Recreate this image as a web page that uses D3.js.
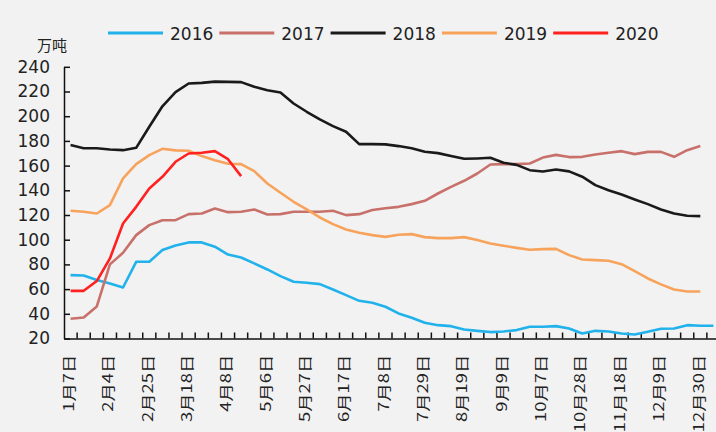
<!DOCTYPE html>
<html>
<head>
<meta charset="utf-8">
<script src="https://cdn.jsdelivr.net/npm/d3@7"></script>
<style>
body { margin: 0; background: #f2f2f2; }
</style>
</head>
<body>
<div id="chart"></div>
<script>
// weekly categories (some holiday weeks are skipped)
var cats = ["1月7日","1月14日","1月21日","2月4日","2月11日","2月18日","2月25日","3月4日","3月11日","3月18日",
            "3月25日","4月1日","4月8日","4月15日","4月22日","5月6日","5月13日","5月20日","5月27日","6月3日",
            "6月10日","6月17日","6月24日","7月1日","7月8日","7月15日","7月22日","7月29日","8月5日","8月12日",
            "8月19日","8月26日","9月2日","9月9日","9月16日","9月23日","10月7日","10月14日","10月21日","10月28日",
            "11月4日","11月11日","11月18日","11月25日","12月2日","12月9日","12月16日","12月23日","12月30日","1月6日"];

var years = ["2016","2017","2018","2019","2020"];
var yTicks = [20,40,60,80,100,120,140,160,180,200,220,240];

var s2016 = [71.3,71,67.3,64.6,61.3,82.1,82.1,91.6,95.3,97.8,
             97.8,94.3,88,85.6,80.8,75.9,70.5,65.9,65.1,64,
             59.7,55.1,50.5,48.9,45.7,40.3,36.8,32.7,30.8,30,
             27.3,26.2,25.2,25.7,26.8,29.5,29.5,30,28.1,24.1,
             26.2,25.7,24.1,23.3,25.5,27.9,28.1,30.8,30.3,30.3];
var s2017 = [36,37,46,80,89.4,103.7,111.8,115.8,115.8,120.7,
             121.2,125.3,122.3,122.6,124.5,120.4,120.7,122.6,122.6,122.6,
             123.4,119.9,120.7,124,125.5,126.6,128.8,131.5,137.4,142.8,
             147.7,153.6,160.9,161.2,161.2,161.7,166.5,168.7,166.9,167.1,
             169,170.4,171.7,169.3,171.1,171.1,167.1,172.5,175.8];
var s2018 = [176.6,174,174,173,172.5,174.4,191.5,208,219.5,226.5,
             227,228,227.8,227.6,223.8,221,219.2,210.3,203.6,197.4,
             192,187.4,177.4,177.4,177.2,175.8,174.1,171.2,170.1,167.7,
             165.5,165.8,166.3,162.3,160.6,156.3,155.2,156.9,155.3,151,
             144.2,140.1,136.6,132.6,128.8,124.5,121.2,119.4,119.1];
var s2019 = [123.4,122.6,121.2,128,149.6,161.2,168.5,173.6,172.3,172,
             167.7,164.4,161.5,161.2,155.5,145.5,138,130.7,124.5,118,
             112.6,108.3,105.6,103.7,102.3,104,104.5,102.1,101.3,101.3,
             102.1,99.7,97,95.1,93.4,91.8,92.4,92.6,87.5,84,
             83.5,82.9,80.2,74.5,68.6,63.8,59.7,58.1,58.1];
var s2020 = [58.6,58.6,66.5,84.8,113.1,126.6,141.5,150.9,163.1,169.8,
             170.4,171.7,165.2,151.5];

var color = d3.scaleOrdinal()
    .domain(years)
    .range(["#21b2ec","#c8716b","#1a1a1a","#f7a35c","#ff2020"]);

var width = 716, height = 432;
var svg = d3.select("#chart").append("svg")
    .attr("width", width)
    .attr("height", height);

svg.append("rect")
    .attr("width", width).attr("height", height)
    .attr("fill", "#f2f2f2");

// Set the ranges
var x = d3.scaleBand().domain(cats).range([64, 64 + cats.length * 13.12]);
var y = d3.scaleLinear().domain([20, 240]).range([338.5, 66.8]);

// y axis, ticks inward
var yAxis = svg.append("g")
    .attr("transform", "translate(64,0)")
    .call(d3.axisLeft(y).tickValues(yTicks).tickSizeInner(-6).tickSizeOuter(0).tickPadding(14));
yAxis.select(".domain").attr("stroke", "#111").attr("stroke-width", 1.5);
yAxis.selectAll(".tick line").attr("stroke", "#111").attr("stroke-width", 1.5);
yAxis.selectAll("text")
    .attr("font-family", "DejaVu Sans")
    .attr("font-size", 17)
    .attr("fill", "#222");

// x axis
var xAxis = svg.append("g")
    .attr("transform", "translate(0," + y(20) + ")")
    .call(d3.axisBottom(x).tickValues(cats.filter(function(d, i) { return i % 3 == 0; })).tickSize(0).tickSizeOuter(0));
xAxis.select(".domain").attr("stroke", "#111").attr("stroke-width", 1.5);
xAxis.selectAll("text")
    .attr("font-family", "Noto Sans CJK SC")
    .attr("font-size", 17)
    .attr("fill", "#222")
    .attr("transform", "rotate(-90) scale(1.08,0.82)")
    .attr("x", -15)
    .attr("y", -2)
    .attr("dy", "0.35em")
    .style("text-anchor", "end");

// tick marks between categories
svg.append("g").selectAll("line")
    .data(cats.slice(1))
    .enter().append("line")
    .attr("x1", function(d) { return x(d); })
    .attr("x2", function(d) { return x(d); })
    .attr("y1", y(20))
    .attr("y2", y(20) - 6)
    .attr("stroke", "#111")
    .attr("stroke-width", 1.5);

// lines
var valueline = d3.line()
    .x(function(d, i) { return x(cats[i]) + x.bandwidth() / 2; })
    .y(function(d) { return y(d); });

var series = [s2016, s2017, s2018, s2019, s2020];
for (var i = 0; i < series.length; i++) {
    svg.append("path")
        .datum(series[i])
        .attr("fill", "none")
        .attr("stroke", color(years[i]))
        .attr("stroke-width", 2.6)
        .attr("stroke-linejoin", "round")
        .attr("d", valueline);
}

// unit label
svg.append("text")
    .attr("x", 37)
    .attr("y", 51)
    .attr("font-family", "Noto Sans CJK SC")
    .attr("font-size", 15)
    .attr("fill", "#222")
    .text("万吨");

// legend
var legend = svg.append("g").selectAll("g")
    .data(years)
    .enter().append("g")
    .attr("transform", function(d, i) { return "translate(" + (108 + i * 111.3) + ",33)"; });
legend.append("line")
    .attr("x1", 0).attr("x2", 55)
    .attr("stroke", function(d) { return color(d); })
    .attr("stroke-width", 3);
legend.append("text")
    .attr("x", 62)
    .attr("y", 6.5)
    .attr("font-family", "DejaVu Sans")
    .attr("font-size", 17)
    .attr("fill", "#222")
    .text(function(d) { return d; });
</script>
</body>
</html>
